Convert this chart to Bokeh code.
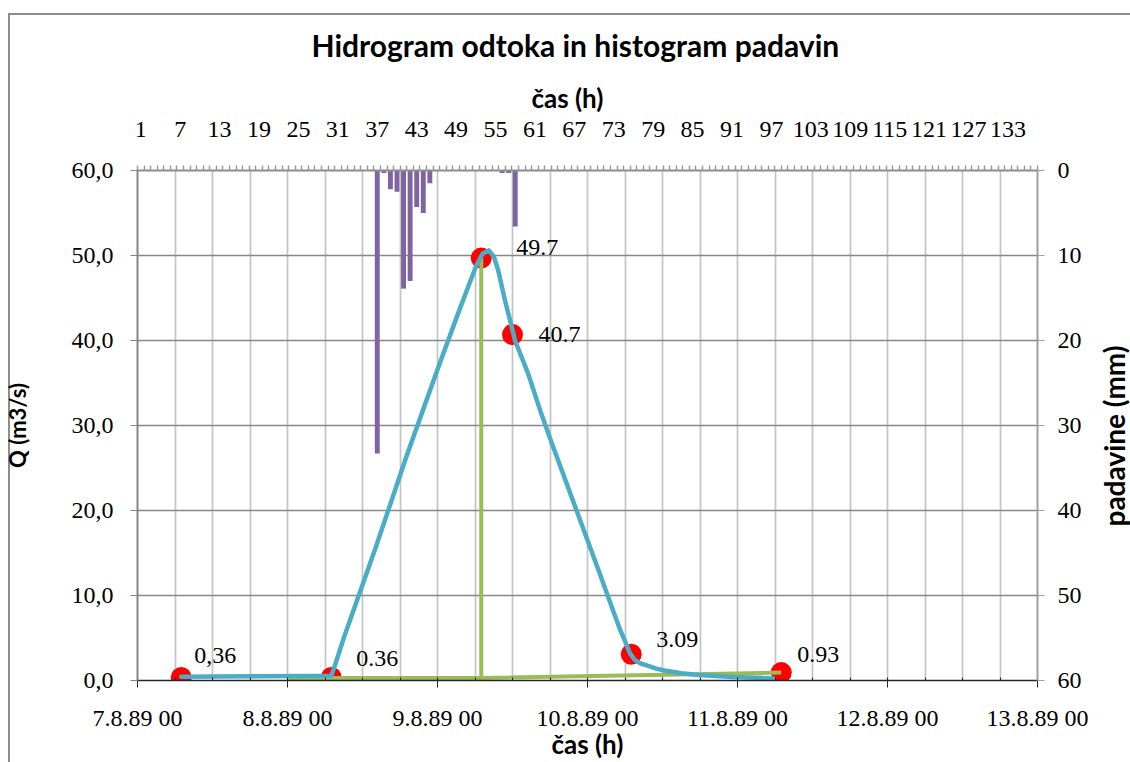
import math
from bokeh.plotting import figure
from bokeh.layouts import row
from bokeh.models import Range1d, LinearAxis, FixedTicker, Title
from bokeh.embed import file_html
from bokeh.resources import INLINE
from bokeh.core.properties import value

# ---------------- data ----------------
# bottom time axis (hours since 7.8.89 00)
day_ticks = [0, 24, 48, 72, 96, 120, 144]
day_labels = ["7.8.89 00", "8.8.89 00", "9.8.89 00", "10.8.89 00",
              "11.8.89 00", "12.8.89 00", "13.8.89 00"]
# left axis (Q)
q_ticks = [0, 10, 20, 30, 40, 50, 60]
q_labels = ["0,0", "10,0", "20,0", "30,0", "40,0", "50,0", "60,0"]
# right axis (rain, inverted)
rain_ticks = [0, 10, 20, 30, 40, 50, 60]
rain_labels = ["0", "10", "20", "30", "40", "50", "60"]
# top category axis (hour index)
hour_count = 137
hour_label_ticks = [1, 7, 13, 19, 25, 31, 37, 43, 49, 55, 61, 67, 73, 79, 85,
                    91, 97, 103, 109, 115, 121, 127, 133]

# rainfall histogram (hour index, mm)
rain_hour = [37, 38, 39, 40, 41, 42, 43, 44, 45, 56, 57, 58]
rain_mm = [33.3, 0.3, 2.2, 2.5, 13.9, 13.0, 4.3, 5.0, 1.5, 0.3, 0.3, 6.6]

# observed discharge (hours, m3/s)
obs_hour = [7, 31, 55, 60, 79, 103]
obs_q = [0.36, 0.36, 49.7, 40.7, 3.09, 0.93]
obs_text = ["0,36", "0.36", "49.7", "40.7", "3.09", "0.93"]

# modelled hydrograph (hours, m3/s)
model_hour = [7, 20, 31, 31.6, 33, 38, 43, 48, 51, 53, 54.2, 55.2, 56.2, 57, 57.7,
              58.8, 59.6, 60.4, 62.5, 64.6, 66, 68, 70, 72, 74, 76, 77.2, 77.9,
              78.8, 79.6, 80.5, 81.6, 83, 84.3, 87, 89.8, 95.3, 101.7]
model_q = [0.45, 0.5, 0.55, 1.8, 5.0, 15.4, 26.3, 36.6, 42.6, 46.5, 48.8, 50.2, 50.6,
           49.9, 48.3, 44.7, 42.4, 40.0, 36.1, 31.4, 28.5, 24.5, 20.5, 16.5, 12.5,
           8.4, 6.0, 4.8, 3.2, 2.4, 2.0, 1.75, 1.4, 1.17, 0.85, 0.65, 0.4, 0.25]

# baseflow separation line (hours, m3/s)
sep_hour = [24, 55, 55, 55, 103]
sep_q = [0.3, 0.3, 49.7, 0.3, 0.93]

# ---------------- styling ----------------
BLUE = "#4BACC6"
GREEN = "#9BBB59"
PURPLE = "#8064A2"
RED = "#FF0000"
SERIF = "Liberation Serif"
SANS = "Lato"
FRAME_GREY = "#8c8c8c"

label_dx = [13, 25, 35, 26, 25, 16]
label_dy = [-22, -19, -11, 0, -15, -18]

W1, W2, H = 1094, 36, 762

p = figure(width=W1, height=H, output_backend="svg", toolbar_location=None,
           x_range=Range1d(day_ticks[0], day_ticks[-1]),
           y_range=Range1d(q_ticks[0], q_ticks[-1]),
           min_border_left=136, min_border_top=170,
           min_border_right=W1 - 1037, min_border_bottom=81)
# outer chart-area border (left and top edges)
p.styles = {"background": (f"linear-gradient({FRAME_GREY},{FRAME_GREY}) 8px 13px / 2px 800px no-repeat, "
                           f"linear-gradient({FRAME_GREY},{FRAME_GREY}) 8px 13px / 1200px 2px no-repeat, white")}
p.extra_x_ranges = {"cat": Range1d(0.5, hour_count + 0.5)}
p.extra_y_ranges = {"rain": Range1d(rain_ticks[-1], rain_ticks[0])}
p.outline_line_color = None
p.background_fill_color = "white"
p.border_fill_color = None

# chart title
p.title.text = "Hidrogram odtoka in histogram padavin"
p.title.align = "left"
p.title.offset = 174
p.title.text_font = SANS
p.title.text_font_style = "bold"
p.title.text_font_size = "30px"
p.title.text_color = "black"
p.title.standoff = 24

# bottom axis
xa = p.xaxis[0]
xa.ticker = FixedTicker(ticks=day_ticks, minor_ticks=list(range(0, 145, 6)))
xa.major_label_overrides = {t: l for t, l in zip(day_ticks, day_labels)}
xa.major_label_text_font = SERIF
xa.major_label_text_font_size = "24px"
xa.major_label_text_color = "black"
xa.major_label_standoff = 17
xa.major_tick_out = 7
xa.major_tick_in = 0
xa.minor_tick_in = 3
xa.minor_tick_out = 0
xa.axis_line_color = "#262626"
xa.axis_line_width = 1.5
xa.major_tick_line_color = "#262626"
xa.minor_tick_line_color = "#262626"
xa.axis_label = "čas (h)"
xa.axis_label_text_font = SANS
xa.axis_label_text_font_style = "bold"
xa.axis_label_text_font_size = "26px"
xa.axis_label_text_color = "black"
xa.axis_label_standoff = -6

# left axis
ya = p.yaxis[0]
ya.ticker = FixedTicker(ticks=q_ticks)
ya.major_label_overrides = {t: l for t, l in zip(q_ticks, q_labels)}
ya.major_label_text_font = SERIF
ya.major_label_text_font_size = "24px"
ya.major_label_text_color = "black"
ya.major_label_standoff = 17
ya.major_tick_out = 7
ya.major_tick_in = 0
ya.minor_tick_out = 0
ya.minor_tick_in = 0
ya.axis_line_color = "#868686"
ya.axis_line_width = 2
ya.major_tick_line_color = "#868686"
ya.axis_label = "Q (m3/s)"
ya.axis_label_text_font = SANS
ya.axis_label_text_font_style = "bold"
ya.axis_label_text_font_size = "22px"
ya.axis_label_text_color = "black"
ya.axis_label_standoff = 38

# right axis (rain)
ra = LinearAxis(y_range_name="rain", ticker=FixedTicker(ticks=rain_ticks))
ra.major_label_overrides = {t: l for t, l in zip(rain_ticks, rain_labels)}
ra.major_label_text_font = SERIF
ra.major_label_text_font_size = "24px"
ra.major_label_text_color = "black"
ra.major_label_standoff = 13
ra.major_tick_out = 7
ra.major_tick_in = 0
ra.minor_tick_out = 0
ra.minor_tick_in = 0
ra.axis_line_color = "#a0a0a0"
ra.axis_line_width = 2
ra.major_tick_line_color = "#a0a0a0"
p.add_layout(ra, "right")

# top axis (hour categories)
ta = LinearAxis(x_range_name="cat",
                ticker=FixedTicker(ticks=hour_label_ticks,
                                   minor_ticks=[i + 0.5 for i in range(0, hour_count + 1)]))
ta.major_label_text_font = SERIF
ta.major_label_text_font_size = "24px"
ta.major_label_text_color = "black"
ta.major_label_standoff = 29
ta.major_tick_out = 0
ta.major_tick_in = 0
ta.minor_tick_out = 5
ta.minor_tick_in = 0
ta.minor_tick_line_color = "#9a9a9a"
ta.minor_tick_line_width = 1.5
ta.axis_line_color = FRAME_GREY
ta.axis_line_width = 2
p.add_layout(ta, "above")

# top axis title
tt = Title(text="čas (h)", align="left", offset=394, text_font=SANS,
           text_font_style="bold", text_font_size="26px", text_color="black",
           standoff=10)
p.add_layout(tt, "above")

# grids
p.xgrid.ticker = FixedTicker(ticks=list(range(6, 144, 6)))
p.xgrid.grid_line_color = "#c4c4c4"
p.xgrid.grid_line_width = 1.7
p.ygrid.ticker = FixedTicker(ticks=q_ticks[1:-1])
p.ygrid.grid_line_color = "#878787"
p.ygrid.grid_line_width = 1.5

# rain bars
p.vbar(x=rain_hour, width=0.75, top=0, bottom=rain_mm,
       x_range_name="cat", y_range_name="rain",
       fill_color=PURPLE, line_color=None)

# observed points
p.scatter(obs_hour, obs_q, size=21, fill_color=RED, line_color=None)
# baseflow separation
p.line(sep_hour, sep_q, line_color=GREEN, line_width=4)
# model hydrograph
p.line(model_hour, model_q, line_color=BLUE, line_width=4.5,
       line_join="round", line_cap="round")

# data labels
p.text(x=obs_hour, y=obs_q, text=obs_text, x_offset=label_dx, y_offset=label_dy,
       text_font=value(SERIF), text_font_size="24px", text_color="black",
       text_align="left", text_baseline="middle")

# narrow strip on the right carrying the secondary-axis title (reads bottom-to-top)
p2 = figure(width=W2, height=H, output_backend="svg", toolbar_location=None,
            x_axis_type=None, y_axis_type=None,
            min_border_left=35, min_border_right=0,
            min_border_top=170, min_border_bottom=81)
p2.styles = {"background": (f"linear-gradient({FRAME_GREY},{FRAME_GREY}) 0px 13px / 200px 2px no-repeat, white")}
p2.outline_line_color = None
p2.background_fill_color = None
p2.border_fill_color = None
p2.title.text = ""
p2.add_layout(Title(text="padavine (mm)", align="left", offset=154, text_font=SANS,
                    text_font_style="bold", text_font_size="28px",
                    text_color="black", standoff=0), "left")

layout = row(p, p2, spacing=0)
open("out.html", "w").write(file_html(layout, INLINE))
